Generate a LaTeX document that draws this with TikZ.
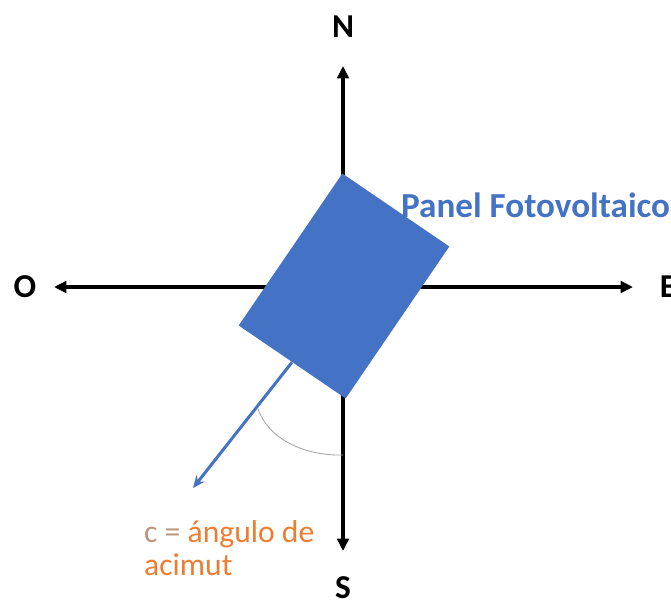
\documentclass[tikz,border=0pt]{standalone}
\usepackage{fontspec}
\setmainfont{Carlito}
\usetikzlibrary{arrows.meta}
\definecolor{panelblue}{RGB}{68,114,196}
\definecolor{acimutorange}{RGB}{237,125,49}
\definecolor{acimutgray}{RGB}{185,150,125}
\tikzset{
  eje/.style={line width=1.8pt, {Triangle[length=7pt,width=6.5pt]}-{Triangle[length=7pt,width=6.5pt]}},
  punto/.style={font=\fontsize{19}{21}\selectfont\bfseries},
  panel/.style={fill=panelblue, draw=none, inner sep=0pt, minimum width=2.59cm, minimum height=3.68cm, rotate=-34.3},
  normalpanel/.style={draw=panelblue, line width=1.7pt, -{Stealth[length=7pt,width=6pt]}},
}
\begin{document}
\begin{tikzpicture}[x=0.02cm,y=-0.02cm]
  \useasboundingbox (0,0) rectangle (671,602);
  \coordinate (nTip) at (343,66);
  \coordinate (sTip) at (343,551);
  \coordinate (oTip) at (54,287);
  \coordinate (eTip) at (633,287);
  \draw[eje] (sTip) -- (nTip);
  \draw[eje] (oTip) -- (eTip);
  \node[punto] (lblN) at (343,27) {N};
  \node[punto] (lblS) at (343,588) {S};
  \node[punto] (lblO) at (25,287) {O};
  \node[punto] (lblE) at (668,287) {E};
  \node[panel] (panel) at (344,286) {};
  \node[anchor=west, text=panelblue, font=\fontsize{20}{22}\selectfont\bfseries] (lblPanel) at (395,205) {Panel Fotovoltaico};
  \coordinate (normEnd) at (193,488);
  \draw[normalpanel] (panel.south) -- (normEnd);
  \coordinate (arcA) at (258,409);
  \coordinate (arcB) at (343,455);
  \draw[gray!70, line width=0.5pt] (arcA) .. controls (268,438) and (303,456) .. (arcB);
  \node[anchor=north west, align=left, text=acimutorange, font=\fontsize{18}{19}\selectfont] (lblAngulo) at (138,514) {\textcolor{acimutgray}{c =} ángulo de\\acimut};
\end{tikzpicture}
\end{document}
